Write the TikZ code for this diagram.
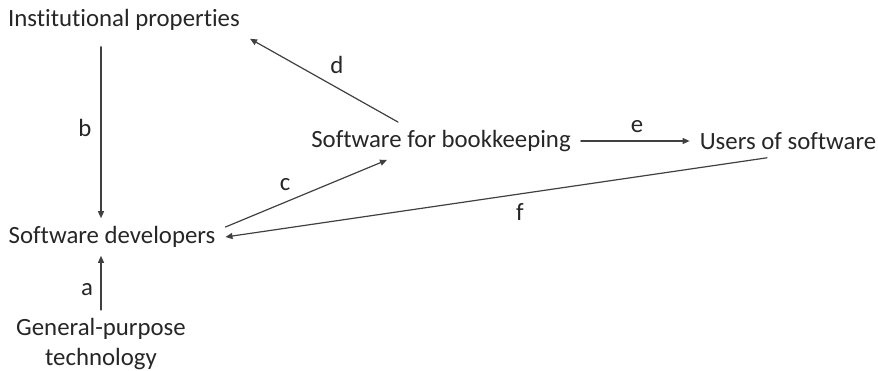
\documentclass[tikz,border=0pt]{standalone}
\usepackage{fontspec}
\setmainfont{Carlito}[Ligatures=NoCommon]
\usetikzlibrary{arrows.meta}

\begin{document}
\begin{tikzpicture}[
						x=1pt, y=-1pt,
						every node/.style={font=\fontsize{24.8}{30}\selectfont, text=black!85},
						box/.style={inner xsep=10pt, inner ysep=8pt},
						link/.style={draw=black!75, line width=1.2pt, -{Triangle[length=7pt,width=6pt]}},
						line cap=round,
						line join=round
						]
						
						\useasboundingbox (0,0) rectangle (878,370);
						
						% Actors and artefacts
						\node[box] (inst) at (124,20) {Institutional properties};
						\node[box] (dev) at (112,237) {Software developers};
						\node[box, anchor=north, align=center] (gpt) at (101,310) {General-purpose\\technology};
						\node[box] (book) at (441,141) {Software for bookkeeping};
						\node[box] (users) at (788,141) {Users of software};
						
						% Links
						\draw[link] (gpt.north) -- (gpt.north |- dev.south);
						\draw[link, shorten <=8pt] (inst.south -| gpt.north) -- (dev.north -| gpt.north);
						\draw[link] ([yshift=10pt]dev.east) -- ([xshift=-54pt]book.south);
						\draw[link] ([xshift=-43pt]book.north) -- (inst.south east);
						\draw[link] (book.east) -- (users.west);
						\draw[link] ([xshift=-21pt]users.south) -- (dev.east);
						
						% Link labels
						\node (la) at (87,290) {a};
						\node (lb) at (85,128) {b};
						\node (lc) at (285,185) {c};
						\node (ld) at (337,65) {d};
						\node (le) at (637,127) {e};
						\node (lf) at (520,212) {f};
						
					\end{tikzpicture}
\end{document}
